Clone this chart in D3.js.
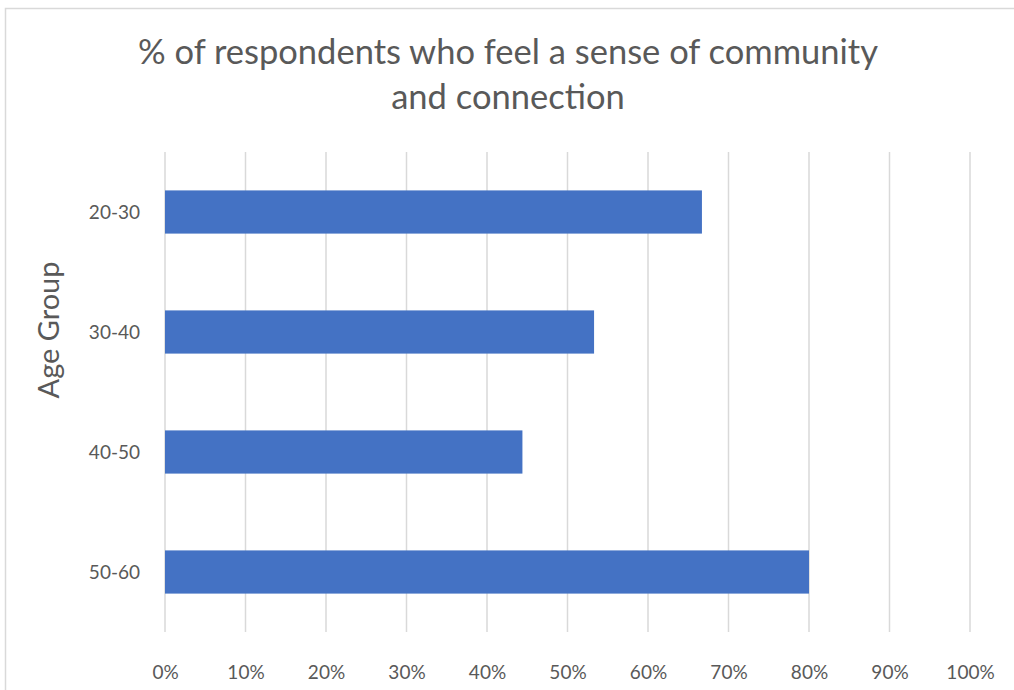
<!DOCTYPE html>
<html>
<head>
<meta charset="utf-8">
<script src="https://cdn.jsdelivr.net/npm/d3@7"></script>
<style>
  body { margin: 0; background: #fff; }
  text { font-family: Lato, "Open Sans", sans-serif; fill: #595959; }
</style>
</head>
<body>
<script>
// donnees
const ageGroups = ["20-30", "30-40", "40-50", "50-60"];
const pctValues = [0.667, 0.533, 0.444, 0.80];
const tickValues = [0, 0.1, 0.2, 0.3, 0.4, 0.5, 0.6, 0.7, 0.8, 0.9, 1.0];
const titleLines = ["% of respondents who feel a sense of community", "and connection"];
const yTitle = "Age Group";

const width = 1014;
const height = 690;
const margin = { top: 152, right: 44, bottom: 58, left: 165 };

const svg = d3.select("body").append("svg")
  .attr("width", width)
  .attr("height", height);

// cadre du graphique
svg.append("rect")
  .attr("x", 5.5).attr("y", 8.5)
  .attr("width", 1020).attr("height", 700)
  .attr("fill", "none")
  .attr("stroke", "#d9d9d9")
  .attr("stroke-width", 1.5);

const x = d3.scaleLinear()
  .domain([0, 1])
  .range([margin.left, width - margin.right]);

const y = d3.scaleBand()
  .domain(ageGroups)
  .range([margin.top, height - margin.bottom])
  .paddingInner(0.64)
  .paddingOuter(0.32);

// grille verticale
svg.append("g")
  .selectAll("line")
  .data(tickValues)
  .join("line")
  .attr("x1", d => x(d)).attr("x2", d => x(d))
  .attr("y1", margin.top).attr("y2", height - margin.bottom)
  .attr("stroke", "#d9d9d9")
  .attr("stroke-width", 1.5);

// barres
svg.append("g")
  .selectAll("rect")
  .data(ageGroups)
  .join("rect")
  .attr("x", x(0))
  .attr("y", d => y(d))
  .attr("width", (d, i) => x(pctValues[i]) - x(0))
  .attr("height", y.bandwidth())
  .attr("fill", "#4472c4");

// axe x
const xAxis = svg.append("g")
  .attr("transform", `translate(0,${height - margin.bottom + 30})`)
  .call(d3.axisBottom(x).tickValues(tickValues).tickFormat(d3.format(".0%")).tickSize(0));
xAxis.select(".domain").remove();
xAxis.selectAll("text")
  .style("font-size", "19px")
  .attr("fill", "#595959");

// axe y
const yAxis = svg.append("g")
  .attr("transform", `translate(${margin.left - 22},0)`)
  .call(d3.axisLeft(y).tickSize(0));
yAxis.select(".domain").remove();
yAxis.selectAll("text")
  .style("font-size", "19px")
  .attr("fill", "#595959")
  .attr("dy", "0.35em");

// titre
svg.append("text")
  .attr("text-anchor", "middle")
  .style("font-size", "34.5px")
  .selectAll("tspan")
  .data(titleLines)
  .join("tspan")
  .attr("x", 508)
  .attr("y", (d, i) => 64 + i * 45)
  .text(d => d);

// titre axe y
svg.append("text")
  .attr("transform", "translate(59,330) rotate(-90)")
  .attr("text-anchor", "middle")
  .style("font-size", "29px")
  .text(yTitle);
</script>
</body>
</html>
